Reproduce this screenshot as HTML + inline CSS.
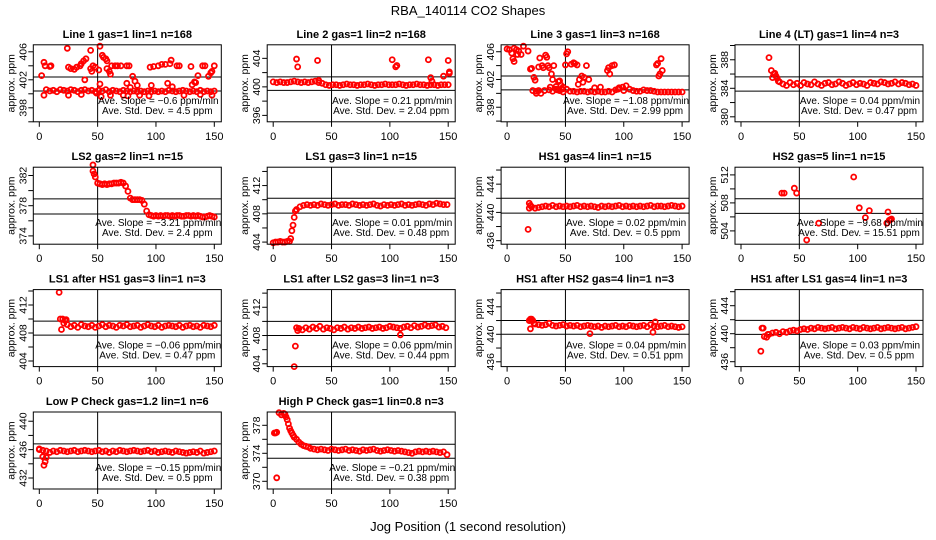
<!DOCTYPE html>
<html><head><meta charset="utf-8">
<style>
html,body{margin:0;padding:0;background:#fff;}
svg{display:block;font-family:"Liberation Sans",Arial,sans-serif;}
</style></head>
<body>
<svg id="chart" width="936" height="540" viewBox="0 0 936 540" xmlns="http://www.w3.org/2000/svg">
<rect width="936" height="540" fill="#fff"/>
<text x="468" y="15" font-size="13" text-anchor="middle">RBA_140114  CO2 Shapes</text>
<text x="468" y="531" font-size="13" text-anchor="middle">Jog Position (1 second resolution)</text>
</svg>
<script>
// ---- panel meta ----
const titles = ["Line 1 gas=1 lin=1 n=168","Line 2 gas=1 lin=2 n=168","Line 3 gas=1 lin=3 n=168","Line 4 (LT) gas=1 lin=4 n=3",
"LS2 gas=2 lin=1 n=15","LS1 gas=3 lin=1 n=15","HS1 gas=4 lin=1 n=15","HS2 gas=5 lin=1 n=15",
"LS1 after HS1 gas=3 lin=1 n=3","LS1 after LS2 gas=3 lin=1 n=3","HS1 after HS2 gas=4 lin=1 n=3","HS1 after LS1 gas=4 lin=1 n=3",
"Low P Check gas=1.2 lin=1 n=6","High P Check gas=1 lin=0.8 n=3"];
const slopes = ["-0.6","0.21","-1.08","0.04","-3.21","0.01","0.02","-9.68","-0.06","0.06","0.04","0.03","-0.15","-0.21"];
const stdDevs = ["4.5","2.04","2.99","0.47","2.4","0.48","0.5","15.51","0.47","0.44","0.51","0.5","0.5","0.38"];
const yMins = [396.0,395.1,395.9,379.3,372.9,403.7,435.5,502.1,403.2,403.6,435.3,435.3,430.45,368.9];
const yMaxs = [407.0,405.9,407.0,390.1,383.1,414.6,446.4,513.1,414.2,414.5,446.5,446.3,441.3,379.9];
const yLabelStart = [398,396,398,380,374,404,436,504,404,404,436,436,432,370];
const refHigh = [402.4,401.4,402.5,385.6,378.9,410.2,442.0,508.6,409.7,410.0,442.0,441.9,436.8,375.3];
const refLow = [400.4,399.5,400.5,383.6,376.9,408.1,439.9,506.5,407.7,408.0,440.0,439.9,434.8,373.3];
const xTicks = [0,50,100,150];
// ---- dense series: start position, step, values ----
const baseStart = [6,0,36,33,46,20,21,0,24,22,24,24,0,32];
const baseStep = [3,3,3,3,2,3,3,3,3,3,3,3,3,3];
const base1 = [400.6,400.4,400.5,400.3,400.6,400.5,400.4,400.6,400.5,400.3,400.5,400.6,400.4,400.5,400.3,400.5,400.4,400.6,400.3,400.5,400.4,400.3,400.5,400.4,400.3,400.4,400.3,400.4,400.3,400.4,400.3,400.4,400.3,400.4,400.3,400.5,400.4,400.3,400.4,400.5,400.4,400.3,400.4,400.3,400.5,400.3,400.4,400.3,400.4];
const base2 = [400.7,400.6,400.7,400.6,400.6,400.7,400.8,400.7,400.6,400.7,400.6,400.7,400.8,400.6,400.5,400.3,400.2,400.3,400.3,400.2,400.3,400.4,400.3,400.3,400.2,400.3,400.3,400.4,400.3,400.2,400.3,400.3,400.4,400.3,400.3,400.3,400.4,400.3,400.2,400.3,400.3,400.4,400.3,400.3,400.2,400.3,400.3,400.2,400.3,400.3,400.3];
const base3 = [400.5,400.3,400.6,400.4,400.2,400.6,400.3,400.3,400.2,400.3,400.3,400.2,400.3,400.2,400.3,400.2,400.2,400.3,400.2,400.5,400.8,400.9,401.1,400.6,400.4,400.3,400.3,400.5,400.4,400.4,400.3,400.2,400.2,400.2,400.2,400.2,400.2,400.2,400.2];
const base4 = [384.9,384.6,384.4,384.8,384.5,384.7,384.4,384.8,384.6,384.5,384.9,384.6,384.4,384.7,384.8,384.5,384.6,384.9,384.7,384.4,384.6,384.8,384.5,384.7,384.6,384.4,384.8,384.7,384.6,384.9,384.8,384.6,384.7,384.9,384.6,384.8,384.7,384.5,384.6,384.4];
const base5 = [382.6,381.8,381.0,380.9,380.8,380.9,380.8,380.9,380.9,381.0,381.0,381.0,381.1,381.0,380.6,379.9,379.0,378.8,378.8,378.8,378.8,378.7,378.2,377.3,376.8,376.7,376.6,376.7,376.6,376.7,376.6,376.7,376.7,376.6,376.7,376.6,376.7,376.7,376.6,376.6,376.7,376.7,376.6,376.7,376.6,376.7,376.6,376.5,376.5,376.6,376.7,376.6,376.5];
const base6 = [408.6,409.0,409.2,409.3,409.2,409.3,409.2,409.4,409.3,409.2,409.3,409.4,409.2,409.3,409.3,409.2,409.4,409.3,409.2,409.3,409.2,409.3,409.4,409.2,409.1,409.3,409.2,409.3,409.2,409.3,409.4,409.2,409.3,409.2,409.3,409.4,409.3,409.2,409.4,409.3,409.5,409.4,409.3,409.3];
const base7 = [440.8,440.6,440.7,440.8,440.9,440.8,441.0,440.8,440.9,440.8,440.9,440.8,440.9,441.0,440.8,440.9,440.8,440.9,440.8,440.7,440.9,440.8,440.9,440.8,440.9,441.0,440.8,440.9,440.8,440.9,440.8,440.9,440.8,440.9,441.0,440.8,440.9,440.9,440.8,440.9,441.0,440.9,440.8,440.9];
const base8 = [];
const base9 = [409.2,408.9,409.1,408.8,409.2,409.0,408.9,409.1,408.8,409.0,409.2,408.9,409.1,409.0,408.8,409.1,409.0,409.2,408.9,409.0,409.1,408.8,409.0,409.2,409.0,408.9,409.1,408.8,409.0,409.1,409.0,408.9,409.1,408.8,409.0,409.1,408.9,409.0,408.8,409.1,409.0,408.9,409.1];
const base10 = [409.0,408.8,409.1,408.9,409.2,409.0,409.3,408.9,409.1,409.0,408.8,409.1,409.0,409.2,408.9,409.1,409.0,409.2,409.0,409.1,409.2,409.0,409.1,409.2,409.0,409.1,409.3,409.2,409.1,409.0,409.2,409.3,409.1,409.4,409.2,409.3,409.5,409.3,409.4,409.5,409.2,409.3,409.1];
const base11 = [441.5,441.4,441.3,441.4,441.6,441.3,441.2,441.3,441.4,441.2,441.3,441.2,441.3,441.1,441.2,441.3,441.2,441.1,441.2,441.0,441.2,441.1,441.2,441.3,441.1,441.2,441.1,441.3,441.2,441.1,441.2,441.3,441.1,441.4,441.2,441.1,441.2,441.3,441.1,441.2,441.1,441.0,441.1];
const base12 = [439.9,440.1,440.2,440.0,440.3,440.2,440.4,440.5,440.4,440.6,440.7,440.6,440.8,440.7,440.9,440.8,440.7,440.8,440.9,440.7,440.8,440.9,440.8,440.7,440.9,440.8,440.7,440.9,440.8,440.7,440.8,440.9,440.7,440.8,440.9,440.8,440.7,440.8,440.9,440.7,440.8,440.9,441.0];
const base13 = [436.0,435.9,435.8,435.6,435.8,435.7,435.9,435.8,435.7,435.8,435.9,435.7,435.8,435.9,435.8,435.7,435.8,435.9,435.7,435.8,435.6,435.8,435.7,435.9,435.8,435.7,435.8,435.9,435.8,435.7,435.8,435.9,435.7,435.8,435.6,435.7,435.8,435.7,435.6,435.8,435.7,435.6,435.5,435.6,435.7,435.6,435.8,435.5,435.6,435.7,435.8];
const base14 = [374.7,374.6,374.5,374.6,374.5,374.4,374.6,374.5,374.4,374.5,374.6,374.4,374.5,374.4,374.3,374.5,374.4,374.5,374.6,374.4,374.3,374.4,374.5,374.4,374.3,374.4,374.3,374.2,374.1,374.0,374.2,374.3,374.2,374.3,374.2,374.3,374.2,374.1,374.2,373.8];
// ---- scattered points (x, y) ----
const ex1 = [2,4,5,9,10,24,25,27,30,32,35,36,38,39,40,44,45,46,48,51,54,55,57,58,52,44,58,60,61,62,65,67,70,75,77,80,82,84,95,98,102,105,108,112,113,110,118,120,130,131,133,134,136,140,142,145,147,148,150,52,75,78,96,114,4,25,36,49,53,61,72,76,86,94,124,138,148];
const ey1 = [402.6,404.5,404,403.9,404,406.5,403.8,403.6,403.5,403.8,404,404.3,404.7,402,405,403.6,403.2,404,403.8,403.4,405.5,405.2,405,404.7,406.8,406.2,403.6,403.2,402.8,404,404,404,404,404,404,402.5,401.8,401.2,403.8,403.9,404,404.2,404.2,404.3,404.8,401.5,404,404,403.9,401.3,401.7,401.6,402.6,404,404,402.5,403,403.2,404,401.4,401.5,400.9,401.2,401.0,399.8,399.8,399.9,400.1,399.6,399.8,399.8,399.7,399.8,399.7,399.8,399.9,399.8];
const ex2 = [20,21,38,39,102,105,106,133,135,136,146,150,151,151];
const ey2 = [403.9,402.8,403.7,400.9,403.8,402.8,403.0,403.8,401.3,400.8,401.5,403.7,402.1,401.9];
const ex3 = [0,2,4,6,5,6,8,9,10,12,14,18,20,21,23,24,22,25,27,28,30,31,32,33,34,35,36,37,38,39,40,42,44,45,46,48,50,51,52,55,57,58,60,61,62,64,65,66,68,70,75,80,86,87,88,90,92,95,100,128,129,130,131,132,133,25,27,29,43,47];
const ey3 = [406.4,406.3,405.8,406.5,405.0,404.6,406.3,405.6,406.1,405.6,406.8,406.1,403.5,403.6,402.3,401.9,400.4,400.0,403.8,405.1,404.0,403.7,400.4,405.5,405.2,404.0,403.7,400.9,402.8,402.0,404.0,401.0,401.7,401.8,401.2,400.9,404.1,405.7,406.0,404.2,404.4,404.3,404.1,401.3,402.0,402.5,401.6,402.3,404.0,402.0,400.8,400.9,403.3,403.7,402.8,404.0,404.1,400.6,400.4,404.1,404.3,402.5,402.8,405.0,403.3,400.3,400.4,400.0,400.5,400.6];
const ex4 = [24,26,27,28,29,30,31,32];
const ey4 = [388.3,386.5,385.5,386.0,386.1,385.7,385.4,385.0];
const ex5 = [46,47];
const ey5 = [383.4,382.2];
const ex6 = [0,2,4,6,8,10,12,14,15,16,17,18,19];
const ey6 = [403.9,404.0,404.0,404.1,404.0,404.0,404.1,404.1,404.5,405.6,406.4,407.5,408.4];
const ex7 = [18,19,19,20];
const ey7 = [437.6,440.6,441.3,441.0];
const ex8 = [35,37,45.7,47.7,56.3,66.6,96.6,101.4,106.6,110,125,126,127,128,129];
const ey8 = [509.4,509.4,510.1,509.4,502.7,505.1,511.7,507.3,505.9,506.9,505.1,506.7,505.5,505.6,505.7];
const ex9 = [17,18,19,20,21,22,23];
const ey9 = [413.8,410.0,408.5,410.0,409.4,409.8,409.9];
const ex10 = [18,19,20,21,109];
const ey10 = [403.6,406.5,409.1,408.7,408.1];
const ex11 = [19,20,21,22,20,23,71,125,127];
const ey11 = [442.0,442.2,442.2,442.0,440.8,441.6,440.1,440.3,441.8];
const ex12 = [17,18,19,20,22,23];
const ey12 = [437.5,440.8,440.8,439.6,439.5,439.9];
const ex13 = [0,3,4,5,6];
const ey13 = [436.1,435.0,433.8,434.3,434.9];
const ex14 = [1,2,3,3,5,7,9,10,11,12,13,14,15,16,17,18,20,22,24,26,28,30];
const ey14 = [376.9,376.9,370.5,377.0,379.8,379.5,379.7,379.6,379.2,378.8,378.2,377.6,377.2,376.9,376.6,376.3,376.0,375.6,375.3,375.1,375.0,374.9];

const baseSeries = [base1,base2,base3,base4,base5,base6,base7,base8,base9,base10,base11,base12,base13,base14];
const extraX = [ex1,ex2,ex3,ex4,ex5,ex6,ex7,ex8,ex9,ex10,ex11,ex12,ex13,ex14];
const extraY = [ey1,ey2,ey3,ey4,ey5,ey6,ey7,ey8,ey9,ey10,ey11,ey12,ey13,ey14];

const NS = "http://www.w3.org/2000/svg";
const svg = document.getElementById("chart");
function mk(tag, attrs, parent){
  const e = document.createElementNS(NS, tag);
  for (const k in attrs) e.setAttribute(k, attrs[k]);
  (parent||svg).appendChild(e);
  return e;
}
const BOX_H = 77;
for (let p = 0; p < titles.length; p++) {
  const col = p % 4, row = Math.floor(p / 4);
  const x0 = 39.3 + 233.9 * col;
  const top = 44.8 + 122.4 * row;
  const bottom = top + BOX_H;
  const left = x0 - 6, right = x0 + 182;
  const xs = v => x0 + v * (175 / 150);
  const ys = v => bottom - (v - yMins[p]) / (yMaxs[p] - yMins[p]) * BOX_H;
  const g = mk("g", {});
  
  
  const t = mk("text", {x: (left + right) / 2, y: top - 7, "font-size": 11, "font-weight": "bold", "text-anchor": "middle"}, g);
  t.textContent = titles[p];
  
  
  const vl = mk("line", {x1: xs(50), x2: xs(50), y1: top, y2: bottom, stroke: "#000", "stroke-width": 1}, g);
  
  
  [refHigh[p], refLow[p]].forEach(v => {
    const hl = mk("line", {x1: left, x2: right, y1: ys(v), y2: ys(v), stroke: "#000", "stroke-width": 1}, g);
    
    
  });
  const pts = mk("g", {fill: "none", stroke: "#ff0000", "stroke-width": 1.8}, g);
  
  
  const bs = baseSeries[p];
  for (let i = 0; i < bs.length; i++) {
    const c = mk("circle", {cx: xs(baseStart[p] + baseStep[p] * i), cy: ys(bs[i]), r: 2.5}, pts);
    
    
  }
  const exs = extraX[p], eys = extraY[p];
  for (let i = 0; i < exs.length; i++) {
    const c = mk("circle", {cx: xs(exs[i]), cy: ys(eys[i]), r: 2.5}, pts);
    
    
  }
  const box = mk("rect", {x: left, y: top, width: right - left, height: BOX_H, fill: "none", stroke: "#000", "stroke-width": 1}, g);
  
  
  xTicks.forEach(v => {
    const tk = mk("line", {x1: xs(v), x2: xs(v), y1: bottom, y2: bottom + 5, stroke: "#000"}, g);
    
    
    const tl = mk("text", {x: xs(v), y: bottom + 18, "font-size": 11, "text-anchor": "middle"}, g);
    tl.textContent = v;
    
    
  });
  for (let v = Math.ceil(yMins[p] / 2) * 2; v <= yMaxs[p]; v += 2) {
    const tk = mk("line", {x1: left - 5, x2: left, y1: ys(v), y2: ys(v), stroke: "#000"}, g);
    
    
  }
  for (let k = 0; k < 3; k++) {
    const v = yLabelStart[p] + 4 * k;
    const yy = ys(v);
    const tl = mk("text", {x: 0, y: 0, "font-size": 10.5, "text-anchor": "middle", transform: "translate(" + (left - 7) + "," + yy + ") rotate(-90)"}, g);
    tl.textContent = v;
    
    
  }
  const yt = mk("text", {x: 0, y: 0, "font-size": 10.5, "text-anchor": "middle", transform: "translate(" + (left - 19) + "," + (top + BOX_H / 2) + ") rotate(-90)"}, g);
  yt.textContent = "approx. ppm";
  
  
  const a1 = mk("text", {x: x0 + 119, y: top + 59, "font-size": 10, "text-anchor": "middle"}, g);
  a1.textContent = "Ave. Slope =  " + slopes[p].replace("-", "\u2212") + "  ppm/min";
  
  
  const a2 = mk("text", {x: x0 + 118, y: top + 69, "font-size": 10, "text-anchor": "middle"}, g);
  a2.textContent = "Ave. Std. Dev. =  " + stdDevs[p] + "  ppm";
  
  
}
</script>
</body></html>
